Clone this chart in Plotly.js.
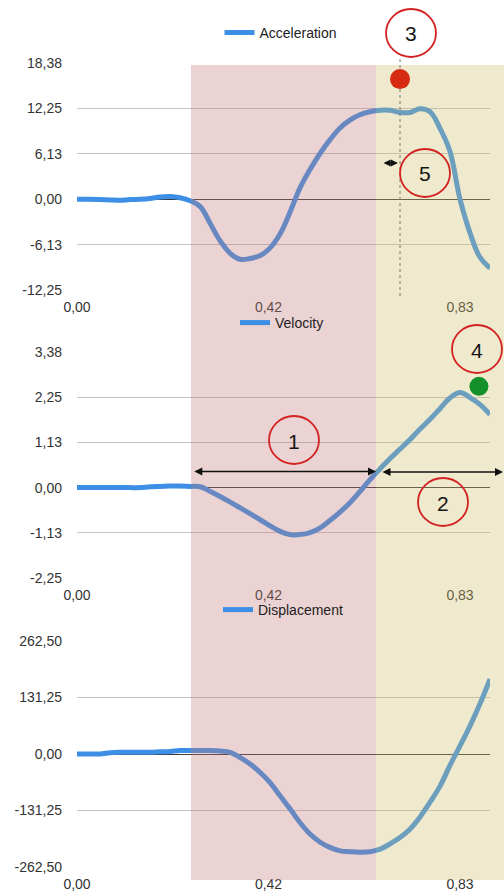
<!DOCTYPE html>
<html>
<head>
<meta charset="utf-8">
<script src="https://cdn.plot.ly/plotly-3.0.1.min.js"></script>
<style>
html,body{margin:0;padding:0;background:#fff;}
#chart{width:504px;height:893px;}
</style>
</head>
<body>
<div id="chart"></div>
<script>
// ---- data ----
const time = [0,0.028,0.05,0.072,0.093,0.115,0.137,0.158,0.18,0.202,0.223,0.245,0.267,0.288,0.31,0.332,0.353,0.375,0.397,0.418,0.44,0.462,0.483,0.505,0.527,0.548,0.57,0.592,0.613,0.635,0.657,0.678,0.7,0.722,0.743,0.765,0.787,0.808,0.83,0.852,0.873,0.895];
const acceleration = [0,0,-0.05,-0.1,-0.15,-0.05,0,0.1,0.3,0.35,0.2,-0.2,-1.0,-3.2,-5.6,-7.3,-8.1,-8.0,-7.6,-6.6,-4.7,-1.7,1.5,4.0,6.2,8.0,9.6,10.7,11.4,11.8,12.0,12.0,11.7,11.7,12.2,11.8,9.5,6.5,0,-4.6,-7.8,-9.3];
const velocity = [0,0,0,0,0,0,0,0.02,0.03,0.04,0.04,0.03,0.02,-0.09,-0.22,-0.36,-0.5,-0.65,-0.8,-0.95,-1.09,-1.17,-1.17,-1.12,-1.0,-0.82,-0.61,-0.37,-0.1,0.2,0.47,0.72,0.96,1.2,1.45,1.7,1.97,2.23,2.37,2.24,2.07,1.82];
const displacement = [0,0,0,3,4,4,4,4,5,6,8,8,8,8,7,4,-8,-23,-43,-66,-97,-128,-159,-186,-205,-217,-225,-227,-228,-227,-221,-209,-194,-174,-147,-112,-74,-27,19,66,116,174];

const seriesNames = ["Acceleration","Velocity","Displacement"];
const xTickVals = [0,0.415,0.83];
const xTickText = ["0,00","0,42","0,83"];
const accTickVals = [-12.25,-6.125,0,6.125,12.25,18.375];
const accTickText = ["-12,25","-6,13","0,00","6,13","12,25","18,38"];
const velTickVals = [-2.25,-1.125,0,1.125,2.25,3.375];
const velTickText = ["-2,25","-1,13","0,00","1,13","2,25","3,38"];
const dispTickVals = [-262.5,-131.25,0,131.25,262.5];
const dispTickText = ["-262,50","-131,25","0,00","131,25","262,50"];

// marked points
const peakAccTime = 0.70, peakAccMark = 16.2;
const peakVelTime = 0.871, peakVelMark = 2.52;
// phase boundaries (time)
const phase1 = [0.251, 0.648];
const arrowLevel = 0.4;

// ---- layout helpers ----
const W = 504, H = 893;
const px = x => x / W;
const py = y => 1 - y / H;

const lineColor = '#3d8fe6';
const font = {family: 'Liberation Sans, Arial, sans-serif', size: 14, color: '#333'};

const traces = [
  {x: time, y: acceleration, xaxis: 'x', yaxis: 'y', name: seriesNames[0], type: 'scatter', mode: 'lines',
   line: {color: lineColor, width: 5, shape: 'spline', smoothing: 1.1}, legend: 'legend'},
  {x: time, y: velocity, xaxis: 'x2', yaxis: 'y2', name: seriesNames[1], type: 'scatter', mode: 'lines',
   line: {color: lineColor, width: 5, shape: 'spline', smoothing: 1.1}, legend: 'legend2'},
  {x: time, y: displacement, xaxis: 'x3', yaxis: 'y3', name: seriesNames[2], type: 'scatter', mode: 'lines',
   line: {color: lineColor, width: 5, shape: 'spline', smoothing: 1.1}, legend: 'legend3'}
];

const xDomain = [px(77), px(490)];
function xAx(anchor) {
  return {domain: xDomain, anchor: anchor, range: [0, 0.895], tickvals: xTickVals, ticktext: xTickText,
    showgrid: false, zeroline: false, showline: false, ticks: '', tickfont: font, ticklabelstandoff: 7, fixedrange: true};
}
function yAx(anchor, dom, range, tv, tt) {
  return {domain: dom, anchor: anchor, range: range, tickvals: tv, ticktext: tt,
    showgrid: true, gridcolor: '#c4c4c4', gridwidth: 1, zeroline: true, zerolinecolor: '#3a3a3a', zerolinewidth: 1,
    showline: false, ticks: '', tickfont: font, ticklabelstandoff: 14, fixedrange: true};
}

const circ = (cx, cy) => ({type: 'circle', xref: 'paper', yref: 'paper', layer: 'above',
  x0: px(cx - 25), x1: px(cx + 25), y0: py(cy + 24), y1: py(cy - 24),
  line: {color: '#d32222', width: 1.8}, fillcolor: 'rgba(0,0,0,0)'});
const num = (t, cx, cy) => ({text: t, xref: 'paper', yref: 'paper', x: px(cx), y: py(cy + 1), showarrow: false,
  font: {family: 'Liberation Sans, Arial, sans-serif', size: 21, color: '#151515'}, xanchor: 'center', yanchor: 'middle'});
const dot = (xr, yr, x, y, d, color) => ({type: 'circle', xref: xr, yref: yr, layer: 'above',
  xsizemode: 'pixel', ysizemode: 'pixel', xanchor: x, yanchor: y, x0: -d / 2, x1: d / 2, y0: -d / 2, y1: d / 2,
  fillcolor: color, line: {width: 0}});

const shapes = [
  {type: 'rect', xref: 'paper', yref: 'paper', layer: 'above', x0: px(191), x1: px(376), y0: py(880), y1: py(65),
   fillcolor: 'rgba(195,120,120,0.33)', line: {width: 0}},
  {type: 'rect', xref: 'paper', yref: 'paper', layer: 'above', x0: px(376), x1: 1, y0: py(880), y1: py(65),
   fillcolor: 'rgba(206,189,106,0.33)', line: {width: 0}},
  {type: 'line', xref: 'x', yref: 'paper', layer: 'above', x0: peakAccTime, x1: peakAccTime, y0: py(296), y1: py(58),
   line: {color: '#7a7a7a', width: 1, dash: 'dot'}},
  dot('x', 'y', peakAccTime, peakAccMark, 20, '#d62a12'),
  dot('x2', 'y2', peakVelTime, peakVelMark, 19, '#13902a'),
  circ(411, 33), circ(425, 173), circ(294, 440), circ(443, 502), circ(477, 349)
];

const annotations = [
  num('3', 411, 33), num('5', 425, 173), num('1', 294, 440), num('2', 443, 502), num('4', 477, 349),
  {text: '', xref: 'paper', yref: 'paper', x: px(398), y: py(163), ax: -16, ay: 0, showarrow: true,
   arrowside: 'end+start', arrowhead: 2, arrowsize: 0.9, arrowwidth: 1.6, arrowcolor: '#111'},
  {text: '', xref: 'x2', yref: 'y2', x: phase1[1], y: arrowLevel, axref: 'x2', ayref: 'y2', ax: phase1[0], ay: arrowLevel,
   showarrow: true, arrowside: 'end+start', arrowhead: 2, arrowsize: 1, arrowwidth: 1.6, arrowcolor: '#111'},
  {text: '', xref: 'paper', yref: 'paper', x: px(503), y: py(472), ax: -(503 - 381), ay: 0,
   showarrow: true, arrowside: 'end+start', arrowhead: 2, arrowsize: 1, arrowwidth: 1.6, arrowcolor: '#111'}
];

const legFont = {family: 'Liberation Sans, Arial, sans-serif', size: 14, color: '#222'};
const leg = (x, y) => ({x: x, y: y, xanchor: 'center', yanchor: 'middle', bgcolor: 'rgba(0,0,0,0)',
  borderwidth: 0, font: legFont, orientation: 'h', itemwidth: 30});

const layout = {
  width: W, height: H, margin: {l: 0, r: 0, t: 0, b: 0},
  paper_bgcolor: '#fff', plot_bgcolor: 'rgba(0,0,0,0)', font: font,
  xaxis: xAx('y'), xaxis2: xAx('y2'), xaxis3: xAx('y3'),
  yaxis: yAx('x', [py(290), py(63)], [-12.25, 18.375], accTickVals, accTickText),
  yaxis2: yAx('x2', [py(578), py(352)], [-2.25, 3.375], velTickVals, velTickText),
  yaxis3: yAx('x3', [py(867), py(641)], [-262.5, 262.5], dispTickVals, dispTickText),
  legend: leg(px(281), py(33)),
  legend2: leg(px(282), py(323)),
  legend3: leg(px(283), py(610)),
  shapes: shapes, annotations: annotations, showlegend: true
};

Plotly.newPlot('chart', traces, layout, {staticPlot: true, displayModeBar: false});
</script>
</body>
</html>
